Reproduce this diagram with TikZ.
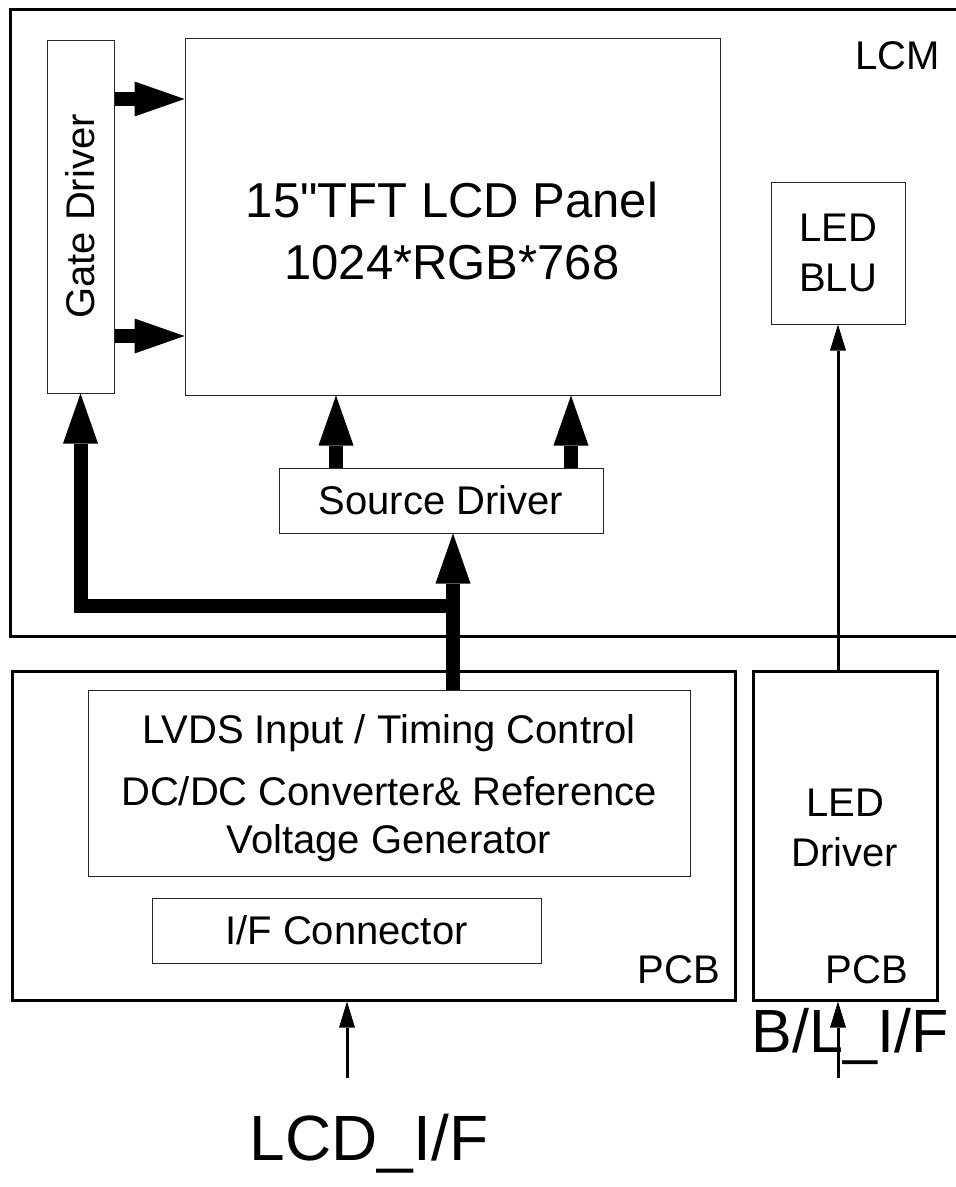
\documentclass[tikz,border=0pt]{standalone}
\usepackage{fontspec}
\setmainfont{Liberation Sans}[Ligatures=TeXOff]
\usetikzlibrary{arrows.meta}

\tikzset{
  blk/.style={draw=black!85, line width=1pt, inner sep=0pt},
  board/.style={draw, line width=3pt, inner sep=0pt},
  txt/.style={font=\fontsize{40}{50}\selectfont, align=center, inner sep=0pt},
  bus/.style={line width=14pt, -{Triangle[length=50pt,width=35pt,line width=0pt]}},
  sig/.style={line width=3pt, -{Triangle[length=26pt,width=16pt,line width=0pt]}},
}

\begin{document}
\begin{tikzpicture}[x=1pt,y=-1pt,line join=miter]
\useasboundingbox (0,0) rectangle (956,1187);

% LCM module frame (runs off the right edge)
\draw[line width=3pt] (962,9) -- (10,9) -- (10,636) -- (962,636);
\node[txt, anchor=base east] (lcm) at (940,69) {LCM};

% blocks inside the LCM
\node[blk, minimum width=67pt, minimum height=353pt] (gate) at (80.5,216.5) {};
\node[txt, rotate=90] (gatetxt) at (gate.center) {Gate Driver};
\node[blk, minimum width=535pt, minimum height=357pt] (panel) at (452.5,216.5) {};
\node[txt, font=\fontsize{49}{62}\selectfont] (paneltxt) at (452,231) {15"TFT LCD Panel\\1024*RGB*768};
\node[blk, minimum width=134pt, minimum height=142pt] (blu) at (838,253) {};
\node[txt] (blutxt) at (blu.center) {LED\\BLU};
\node[blk, minimum width=324pt, minimum height=65pt] (src) at (441,500.5) {};
\node[txt] (srctxt) at (src.center) {Source Driver};

% boards
\node[board, minimum width=723pt, minimum height=329pt] (pcb) at (373.5,835.5) {};
\node[txt, anchor=base east] (pcblbl) at (720,983) {PCB};
\node[blk, minimum width=602pt, minimum height=186pt] (lvds) at (389,783) {};
\node[txt] (lvdstxt) at (389,733) {LVDS Input / Timing Control};
\node[txt, font=\fontsize{40}{48}\selectfont] (dctxt) at (389,819) {DC/DC Converter\& Reference\\Voltage Generator};
\node[blk, minimum width=389pt, minimum height=65pt] (ifc) at (346.5,930.5) {};
\node[txt] (ifctxt) at (ifc.center) {I/F Connector};

\node[board, minimum width=184pt, minimum height=329pt] (leddrv) at (845,835.5) {};
\node[txt] (leddrvtxt) at (845,828) {LED\\Driver};
\node[txt, anchor=base east] (ledpcblbl) at (908,983) {PCB};

% interface labels
\node[txt, font=\fontsize{64}{70}\selectfont, anchor=base] (lcdif) at (369,1160) {LCD\_I/F};
\node[txt, font=\fontsize{61}{70}\selectfont, anchor=base] (blif) at (850,1052) {B/L\_I/F};

% bus arrows
\coordinate (junc) at (453,606);
\coordinate (g1) at (0,99);
\coordinate (g2) at (0,336);
\coordinate (s1) at (336,0);
\coordinate (s2) at (571,0);
\draw[bus] (lvds.north -| junc) -- (src.south -| junc);
\draw[bus] (junc) -| (gate.south);
\draw[bus] (gate.east |- g1) -- (panel.west |- g1);
\draw[bus] (gate.east |- g2) -- (panel.west |- g2);
\draw[bus] (src.north -| s1) -- (panel.south -| s1);
\draw[bus] (src.north -| s2) -- (panel.south -| s2);

% single lines
\draw[sig] (leddrv.north -| blu.south) -- (blu.south);
\coordinate (lcdin) at (347,1078);
\coordinate (blin) at (838,1078);
\draw[sig] (lcdin) -- (pcb.south -| lcdin);
\draw[sig] (blin) -- (leddrv.south -| blin);
\end{tikzpicture}
\end{document}
